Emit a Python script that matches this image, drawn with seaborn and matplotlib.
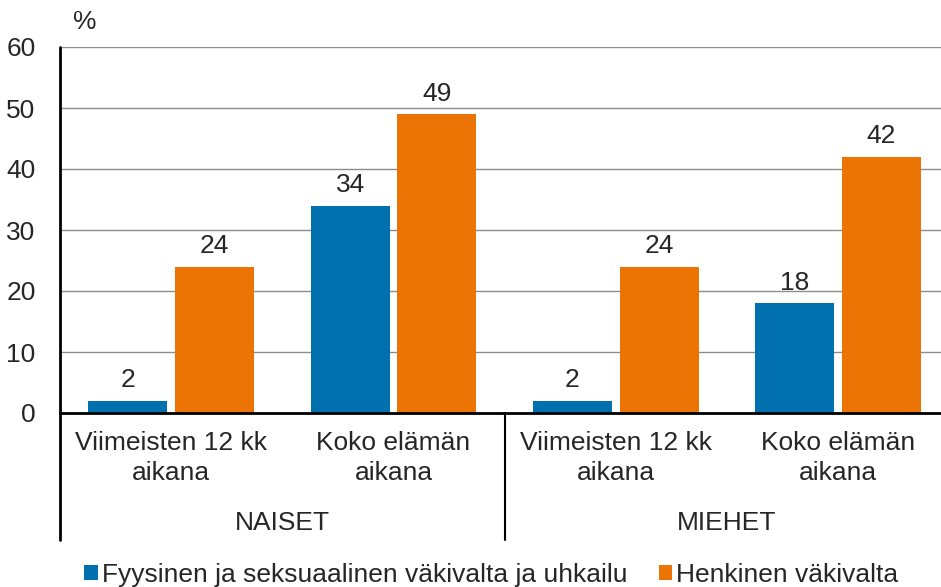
import matplotlib
matplotlib.use("Agg")
import matplotlib.pyplot as plt
import matplotlib.transforms as mtransforms
import pandas as pd
import seaborn as sns

# Data
groups = ["NAISET", "MIEHET"]
periods = ["Viimeisten 12 kk\naikana", "Koko elämän\naikana"]
series = ["Fyysinen ja seksuaalinen väkivalta ja uhkailu", "Henkinen väkivalta"]
physical = [2, 34, 2, 18]
mental = [24, 49, 24, 42]
colors = ["#0070AE", "#EC7404"]

categories = [f"{g}|{p}" for g in groups for p in periods]
df = pd.DataFrame({
    "cat": categories * 2,
    "series": [series[0]] * 4 + [series[1]] * 4,
    "value": physical + mental,
})

FS = 19

sns.set_theme(style="white")
plt.rcParams["font.family"] = ["Liberation Sans", "DejaVu Sans"]
plt.rcParams["font.size"] = FS

fig = plt.figure(figsize=(9.41, 5.87), dpi=100)
ax = fig.add_axes([60 / 941, 174 / 587, 881 / 941, 366 / 587])

sns.barplot(data=df, x="cat", y="value", hue="series", order=categories,
            hue_order=series, palette=colors, width=0.78, gap=0.09,
            saturation=1, linewidth=0, ax=ax, legend=True)

# Data labels
for cont in ax.containers:
    ax.bar_label(cont, fmt="%d", padding=6, fontsize=FS)

ax.set_ylim(0, 60)
ax.set_xlim(-0.5, 3.463)
ax.set_yticks(range(0, 61, 10))
ax.yaxis.grid(True, color="#8c8c8c", linewidth=1)
ax.set_axisbelow(True)
ax.tick_params(axis="y", length=0, pad=17.5, labelsize=FS)
ax.tick_params(axis="x", length=0, pad=13, labelsize=FS)
ax.set_xticks(range(4))
ax.set_xticklabels(periods * 2, linespacing=1.33)
ax.set_xlabel("")
ax.set_ylabel("")

for side in ["top", "right"]:
    ax.spines[side].set_visible(False)
ax.spines["bottom"].set_color("black")
ax.spines["bottom"].set_linewidth(2)
ax.spines["left"].set_visible(False)

# Separator lines and group labels
trans = mtransforms.blended_transform_factory(ax.transData, ax.transAxes)
for x in [-0.5, 1.5]:
    ax.plot([x, x], [1.0 if x == -0.5 else 0, -0.347], color="black",
            linewidth=2 if x == -0.5 else 1.5, transform=trans, clip_on=False)
for i, g in enumerate(groups):
    ax.text(i * 2 + 0.5, -0.3, g, transform=trans, ha="center", va="center",
            fontsize=FS)

ax.text(-0.44, 1.035, "%", transform=trans, ha="left", va="bottom", fontsize=FS)

# Legend
handles, labels = ax.get_legend_handles_labels()
ax.legend(handles, labels, loc="center", bbox_to_anchor=(0.522, 0.02),
          bbox_transform=fig.transFigure, ncol=2, frameon=False, fontsize=FS,
          handlelength=0.5, handleheight=0.5, handletextpad=0.15,
          columnspacing=1.2, borderaxespad=0)

fig.savefig("out.png", dpi=100)
